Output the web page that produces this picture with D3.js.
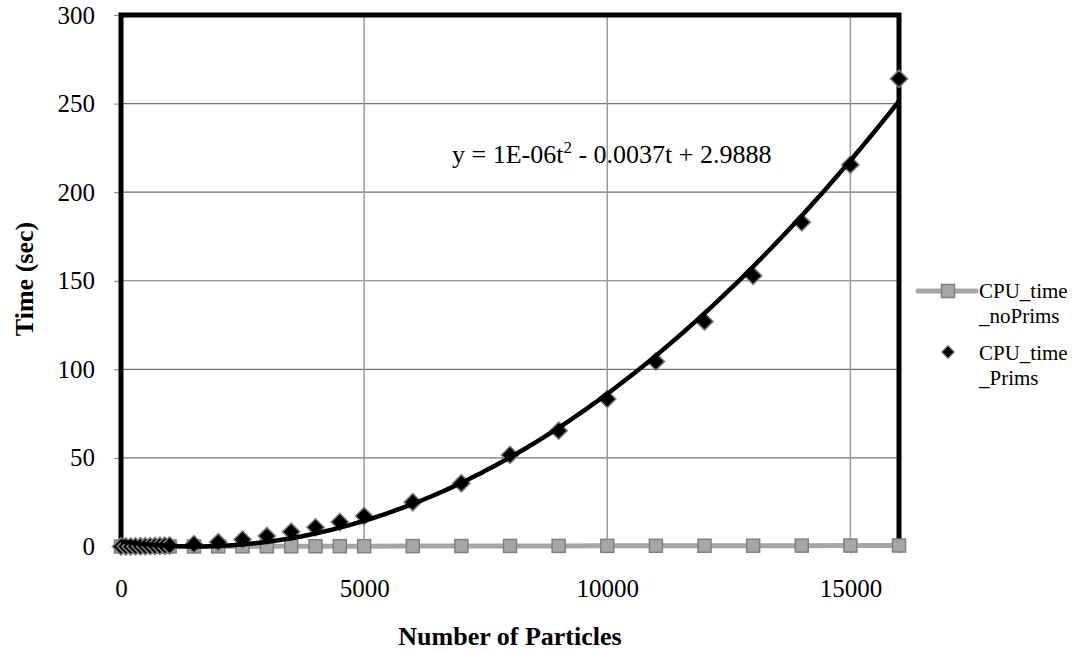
<!DOCTYPE html>
<html lang="en">
<head>
  <meta charset="utf-8">
  <title>CPU time vs Number of Particles</title>

  <!-- Load D3 -->
  <script src="https://d3js.org/d3.v7.min.js"></script>

  <style>
    body {
      margin: 0;
      background-color: #ffffff;
    }

    svg {
      display: block;
    }

    svg text {
      font-family: "Liberation Serif", "Times New Roman", Times, serif;
    }

    .tick text {
      font-size: 25px;
      fill: #000000;
    }

    .tick line {
      stroke: #808080;
      stroke-width: 1px;
    }

    .axis-title {
      font-size: 26px;
      font-weight: bold;
      fill: #000000;
    }

    .legend-label {
      font-size: 21px;
      fill: #000000;
    }

    .equation {
      font-size: 26px;
      fill: #000000;
    }
  </style>
</head>
<body>

<script>
// ---- data ----
var particles = [0, 100, 200, 300, 400, 500, 600, 700, 800, 900, 1000,
                 1500, 2000, 2500, 3000, 3500, 4000, 4500, 5000,
                 6000, 7000, 8000, 9000, 10000, 11000, 12000, 13000, 14000, 15000, 16000];

var cpuNoPrims = [0.001, 0.002, 0.003, 0.004, 0.006, 0.008, 0.01, 0.012, 0.015, 0.018, 0.02,
                  0.04, 0.06, 0.08, 0.1, 0.12, 0.14, 0.16, 0.18,
                  0.22, 0.26, 0.3, 0.33, 0.36, 0.39, 0.42, 0.45, 0.48, 0.51, 0.55];

var cpuPrims = [0.001, 0.01, 0.03, 0.06, 0.1, 0.15, 0.21, 0.29, 0.37, 0.47, 0.58,
                1.3, 2.4, 3.9, 5.9, 8.3, 10.8, 13.8, 17.2,
                25, 35.7, 51.7, 65.4, 83.3, 104.4, 127, 152.8, 183, 215.5, 264];

var xTicks = [0, 5000, 10000, 15000];
var yTicks = [0, 50, 100, 150, 200, 250, 300];
var xGrid = [5000, 10000, 15000];
var yGrid = [50, 100, 150, 200, 250];

var legendNoPrims = ["CPU_time", "_noPrims"];
var legendPrims = ["CPU_time", "_Prims"];

var xTitle = "Number of Particles";
var yTitle = "Time (sec)";
var eqParts = ["y = 1E-06t", "2", " - 0.0037t + 2.9888"];

// ---- layout ----
var width = 1072, height = 653;
var plot = { left: 121, right: 899, top: 15, bottom: 546.5 };

var x = d3.scaleLinear().domain([0, 16000]).range([plot.left, plot.right]);
var y = d3.scaleLinear().domain([0, 300]).range([plot.bottom, plot.top]);

var svg = d3.select("body").append("svg")
    .attr("width", width)
    .attr("height", height);

svg.append("rect")
    .attr("width", width)
    .attr("height", height)
    .attr("fill", "#ffffff");

// gridlines
svg.append("g").selectAll("line")
    .data(yGrid)
    .enter().append("line")
    .attr("x1", plot.left).attr("x2", plot.right)
    .attr("y1", d => y(d)).attr("y2", d => y(d))
    .attr("stroke", "#737373")
    .attr("stroke-width", 1.2);

svg.append("g").selectAll("line")
    .data(xGrid)
    .enter().append("line")
    .attr("x1", d => x(d)).attr("x2", d => x(d))
    .attr("y1", plot.top).attr("y2", plot.bottom)
    .attr("stroke", "#9a9a9a")
    .attr("stroke-width", 1.5);

// axes
var yAxis = svg.append("g")
    .attr("transform", "translate(" + plot.left + ",0)")
    .call(d3.axisLeft(y).tickValues(yTicks).tickSize(7).tickPadding(19).tickFormat(d3.format("d")));
yAxis.select(".domain").remove();
yAxis.attr("font-family", null).attr("font-size", null);

var xAxis = svg.append("g")
    .attr("transform", "translate(0," + plot.bottom + ")")
    .call(d3.axisBottom(x).tickValues(xTicks).tickSize(7).tickPadding(26).tickFormat(d3.format("d")));
xAxis.select(".domain").attr("stroke", "#808080");
xAxis.attr("font-family", null).attr("font-size", null);

// heavy frame: left, top, right
svg.append("path")
    .attr("d", "M" + plot.left + "," + plot.bottom +
               "V" + plot.top + "H" + plot.right + "V" + plot.bottom)
    .attr("fill", "none")
    .attr("stroke", "#000000")
    .attr("stroke-width", 5)
    .attr("stroke-linejoin", "miter");

// axis titles
svg.append("text")
    .attr("class", "axis-title")
    .attr("text-anchor", "middle")
    .attr("x", (plot.left + plot.right) / 2)
    .attr("y", 645)
    .text(xTitle);

svg.append("text")
    .attr("class", "axis-title")
    .attr("text-anchor", "middle")
    .attr("transform", "translate(33,279) rotate(-90)")
    .text(yTitle);

// series: noPrims (grey line with squares)
var noPrimsData = particles.map((p, i) => ({ x: p, y: cpuNoPrims[i] }));
var primsData = particles.map((p, i) => ({ x: p, y: cpuPrims[i] }));

svg.append("path")
    .datum(noPrimsData)
    .attr("fill", "none")
    .attr("stroke", "#a6a6a6")
    .attr("stroke-width", 5)
    .attr("d", d3.line().x(d => x(d.x)).y(d => y(d.y)));

var sq = 13;
svg.append("g").selectAll("rect")
    .data(noPrimsData)
    .enter().append("rect")
    .attr("x", d => x(d.x) - sq / 2)
    .attr("y", d => y(d.y) - sq / 2)
    .attr("width", sq)
    .attr("height", sq)
    .attr("fill", "#a6a6a6")
    .attr("stroke", "#808080")
    .attr("stroke-width", 1.5);

// series: Prims (black diamonds)
var diamond = d3.symbol().type(d3.symbolSquare).size(150);
svg.append("g").selectAll("path")
    .data(primsData)
    .enter().append("path")
    .attr("d", diamond)
    .attr("transform", d => "translate(" + x(d.x) + "," + y(d.y) + ") rotate(45)")
    .attr("fill", "#000000")
    .attr("stroke", "#808080")
    .attr("stroke-width", 1.5);

// quadratic trendline: least squares fit of the Prims series
function fitQuadratic(xs, ys) {
  var s = [0, 0, 0, 0, 0], t = [0, 0, 0];
  xs.forEach(function(xv, i) {
    var u = xv / 1000;
    for (var k = 0; k < 5; k++) s[k] += Math.pow(u, k);
    for (var k2 = 0; k2 < 3; k2++) t[k2] += Math.pow(u, k2) * ys[i];
  });
  var m = [[s[0], s[1], s[2], t[0]],
           [s[1], s[2], s[3], t[1]],
           [s[2], s[3], s[4], t[2]]];
  for (var c = 0; c < 3; c++) {
    for (var r = c + 1; r < 3; r++) {
      var f = m[r][c] / m[c][c];
      for (var j = c; j < 4; j++) m[r][j] -= f * m[c][j];
    }
  }
  var coef = [0, 0, 0];
  for (var r2 = 2; r2 >= 0; r2--) {
    var v = m[r2][3];
    for (var j2 = r2 + 1; j2 < 3; j2++) v -= m[r2][j2] * coef[j2];
    coef[r2] = v / m[r2][r2];
  }
  return function(xv) {
    var u = xv / 1000;
    return coef[0] + coef[1] * u + coef[2] * u * u;
  };
}

var trend = fitQuadratic(particles, cpuPrims);
var trendPts = d3.range(0, 16001, 100).map(p => ({ x: p, y: trend(p) }));

svg.append("path")
    .datum(trendPts)
    .attr("fill", "none")
    .attr("stroke", "#000000")
    .attr("stroke-width", 4.5)
    .attr("d", d3.line().x(d => x(d.x)).y(d => y(d.y)));

// equation label
var eq = svg.append("text")
    .attr("class", "equation")
    .attr("x", 452)
    .attr("y", 163);
eq.append("tspan").text(eqParts[0]);
eq.append("tspan").attr("dy", -10).style("font-size", "17px").text(eqParts[1]);
eq.append("tspan").attr("dy", 10).text(eqParts[2]);

// legend
var legend = svg.append("g");

legend.append("line")
    .attr("x1", 918).attr("x2", 976)
    .attr("y1", 291).attr("y2", 291)
    .attr("stroke", "#a6a6a6")
    .attr("stroke-width", 5)
    .attr("stroke-linecap", "round");

legend.append("rect")
    .attr("x", 948 - sq / 2)
    .attr("y", 291 - sq / 2)
    .attr("width", sq)
    .attr("height", sq)
    .attr("fill", "#a6a6a6")
    .attr("stroke", "#808080")
    .attr("stroke-width", 1.5);

legend.append("path")
    .attr("d", d3.symbol().type(d3.symbolSquare).size(80))
    .attr("transform", "translate(948,352) rotate(45)")
    .attr("fill", "#000000")
    .attr("stroke", "#808080")
    .attr("stroke-width", 1.2);

legend.selectAll("text.np")
    .data(legendNoPrims)
    .enter().append("text")
    .attr("class", "legend-label np")
    .attr("x", 979)
    .attr("y", (d, i) => 298 + i * 25)
    .text(d => d);

legend.selectAll("text.p")
    .data(legendPrims)
    .enter().append("text")
    .attr("class", "legend-label p")
    .attr("x", 979)
    .attr("y", (d, i) => 360 + i * 25)
    .text(d => d);
</script>

</body>
</html>
